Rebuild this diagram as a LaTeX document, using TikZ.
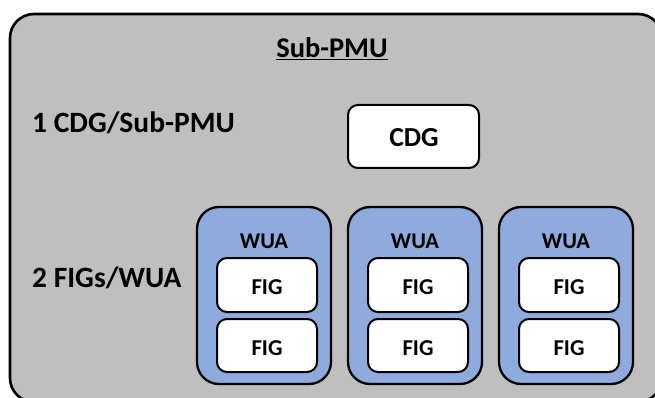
\documentclass[tikz,border=0pt]{standalone}
\usepackage{fontspec}
\setmainfont{Carlito}
\definecolor{wuablue}{HTML}{8FAADC}
\definecolor{panelgray}{HTML}{BFBFBF}
\tikzset{
  outerbox/.style={draw=black, line width=2.6pt, fill=panelgray, rounded corners=24pt},
  wuabox/.style={draw=black, line width=2.3pt, fill=wuablue, rounded corners=22pt},
  whitebox/.style={draw=black, line width=2pt, fill=white, rounded corners=10pt},
  sidelbl/.style={font=\bfseries\fontsize{29.5}{32}\selectfont, anchor=base west, inner sep=0pt},
  inlbl/.style={anchor=base, inner sep=0pt}
}
\begin{document}
\begin{tikzpicture}[x=1pt,y=-1pt]
\useasboundingbox (0,0) rectangle (655,398);
\clip (0,0) rectangle (655,398);
% enclosing Sub-PMU panel (runs past the right and lower edges)
\draw[outerbox] (10,14) rectangle (662,402);
\node[inlbl, font=\bfseries\fontsize{28.5}{32}\selectfont] (title) at (332,58) {\underline{Sub-PMU}};
\node[sidelbl] (cdglbl) at (32,133) {1 CDG/Sub-PMU};
\node[sidelbl] (figlbl) at (32,287) {2 FIGs/WUA};
% CDG
\draw[whitebox] (348,105) rectangle (479,168);
\node[inlbl, font=\bfseries\fontsize{27.5}{30}\selectfont] (cdg) at (414,147) {CDG};
% three WUA blocks, each holding two FIGs
\foreach \i/\x in {1/197, 2/348, 3/499} {
  \draw[wuabox] (\x,207) rectangle (\x+134,384);
  \node[inlbl, font=\bfseries\fontsize{22.5}{26}\selectfont] (wua\i) at (\x+67,248) {WUA};
  \draw[whitebox] (\x+20,258) rectangle (\x+120,312);
  \node[inlbl, font=\bfseries\fontsize{22.7}{26}\selectfont] (figa\i) at (\x+70,294.5) {FIG};
  \draw[whitebox] (\x+20,319) rectangle (\x+120,372);
  \node[inlbl, font=\bfseries\fontsize{22.7}{26}\selectfont] (figb\i) at (\x+70,355) {FIG};
}
\end{tikzpicture}
\end{document}
